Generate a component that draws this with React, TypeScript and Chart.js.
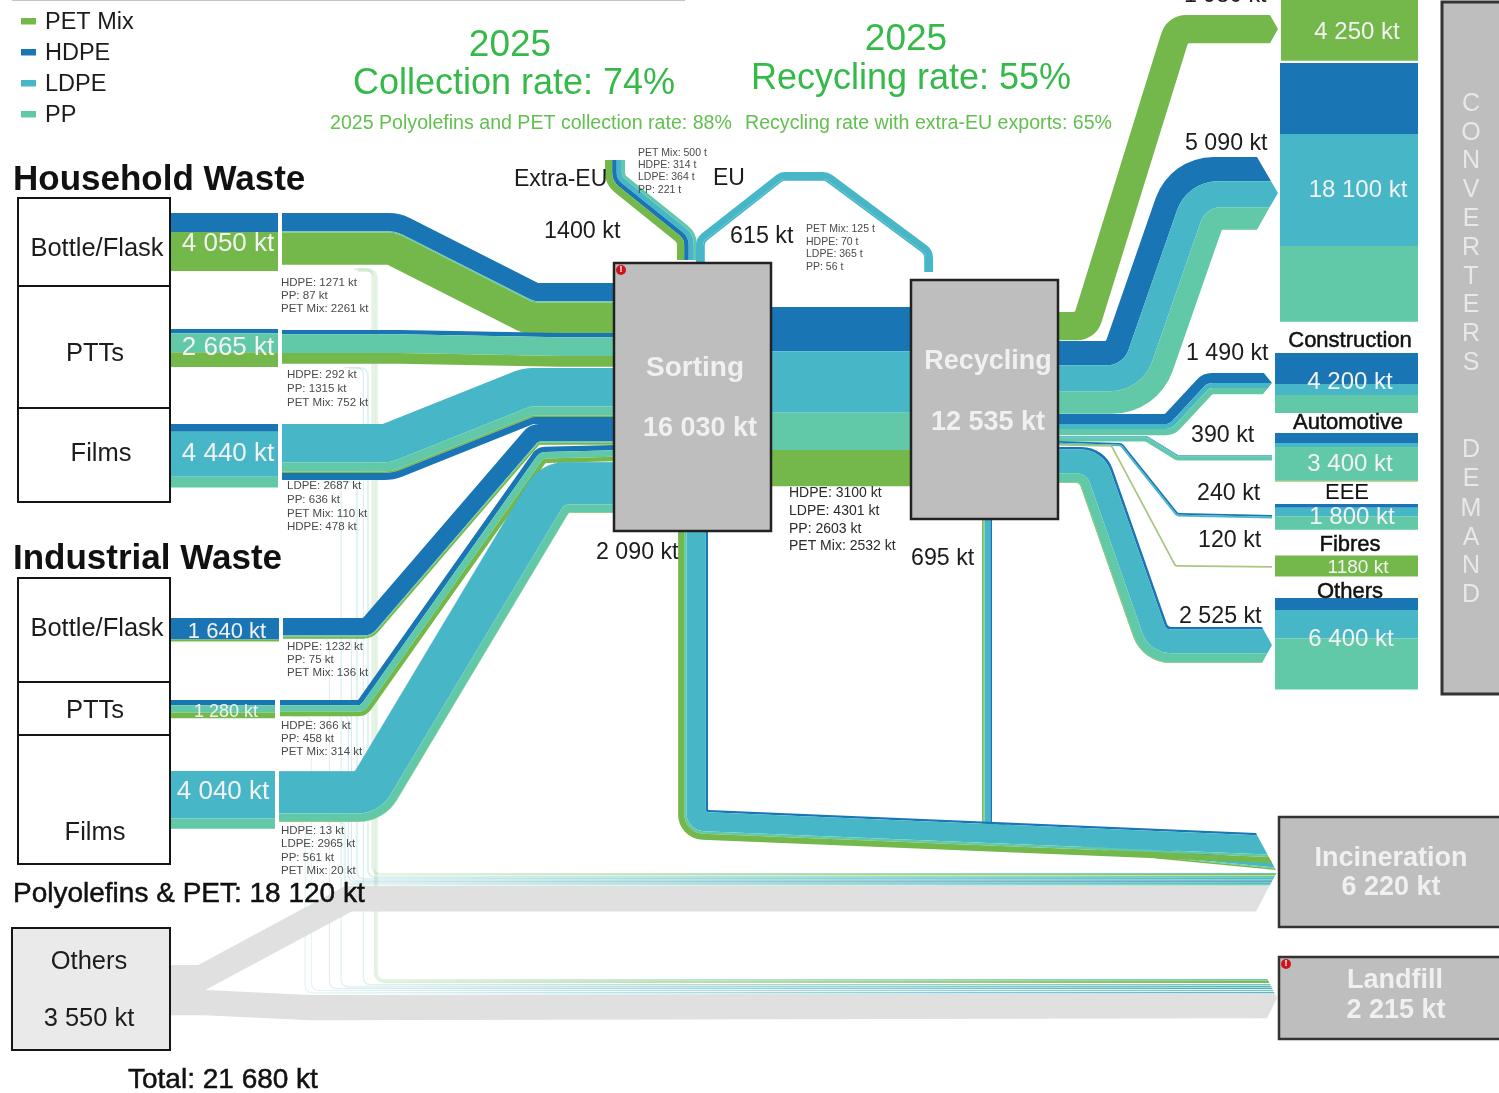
import React, { useEffect, useRef } from "react";
import { Chart, registerables } from "chart.js";

Chart.register(...registerables);

// ---------- colours ----------
const PET = "#74b74b", HDPE = "#1a75b5", LDPE = "#47b7c8", PP = "#62c9a8", OTH = "#e0e0e0";
const legendNames = ["PET Mix", "HDPE", "LDPE", "PP"];
const legendColors = [PET, HDPE, LDPE, PP];

// ---------- values (kt) ----------
const hhBottleBar = [1330, 2720];
const hhPttBar = [300, 1330, 1035];
const hhFilmsBar = [540, 3150, 750];
const iwBottleBar = [1500, 140];
const iwPttBar = [370, 500, 410];
const iwFilmsBar = [3320, 720];

const hhBottleFlow = [1271, 87, 2261];
const hhPttFlow = [292, 1315, 752];
const hhFilmsFlow = [2687, 636, 110, 478];
const iwBottleFlow = [1232, 75, 136];
const iwPttFlow = [366, 458, 314];
const iwFilmsFlow = [13, 2965, 561, 20];

const sortToRecycling = [3100, 4301, 2603, 2532];
const extraEu = [221, 364, 314, 500];
const eu = [490, 125];
const sortToIncin = [150, 1350, 170, 420];
const recToIncin = [120, 400, 70, 105];
const recToPet = [1980];
const recToPackaging = [1690, 1830, 1570];
const recToConstruction = [700, 350, 440];
const recToAutomotive = [40, 90, 260];
const recToEee = [120, 120];
const recToFibres = [120];
const recToOthers = [180, 1650, 650, 45];

const packagingPet = [4250];
const packaging = [4965, 7830, 5305];
const construction = [2170, 770, 1260];
const automotive = [700, 280, 2350, 70];
const eee = [260, 600, 940];
const fibres = [1180];
const othersDemand = [840, 2000, 3560];

const othersToIncin = [1790];
const othersToLandfill = [1760];

// residual thin flows: [from material a, material b]
const incResidual = [[70, 110], [80, 70], [110, 50], [60, 20], [60, 40], [130, 40]];
const incMaterials = [[PP, PET], [PP, LDPE], [LDPE, PP], [HDPE, PP], [HDPE, PP], [LDPE, PP]];
const lfResidual = [[100, 180], [30, 70], [80, 40], [60, 20], [40, 40], [80, 30]];
const lfMaterials = [[PP, PET], [HDPE, PP], [LDPE, PP], [HDPE, PP], [HDPE, PP], [LDPE, PP]];

// ---------- layout anchors (chart coordinates) ----------
const K = 0.0143;
const incX = [374, 369, 358, 352, 349, 346];
const incStart = [268, 367, 481, 636, 714, 820];
const incY = [873, 876, 878, 880.5, 881.5, 883];
const lfX = [378, 364, 342, 330, 312, 306];
const lfStart = [268, 367, 481, 638, 716, 821];
const lfY = [979, 984, 986, 988, 990, 992];
const incTip = { x0: 1256, len: 21, cy: 872, half: 39 };
const lfTip = { x0: 1267, len: 10, cy: 998, half: 20 };

type P = { x: number; y: number };
const ds: any[] = [];

function poly(points: P[], fill: string, radii?: number[], extra: any = {}) {
  ds.push({
    polygon: true, data: points, fillColor: fill, radii: radii || points.map(() => 0),
    showLine: false, pointRadius: 0, ...extra,
  });
}
function rect(x0: number, y0: number, x1: number, y1: number, fill: string, edge?: string, w = 0) {
  poly([{ x: x0, y: y0 }, { x: x1, y: y0 }, { x: x1, y: y1 }, { x: x0, y: y1 }], fill, undefined, { edgeColor: edge, edgeWidth: w });
}
function stack(x0: number, x1: number, y0: number, kts: number[], cols: string[], k = K) {
  let y = y0;
  kts.forEach((v, i) => { rect(x0, y, x1, y + v * k, cols[i]); y += v * k; });
}
function unit(a: P, b: P): P {
  const dx = b.x - a.x, dy = b.y - a.y, l = Math.hypot(dx, dy) || 1;
  return { x: dx / l, y: dy / l };
}
function offsetEdge(route: P[], d: number, W: number, rIn: number, f: number) {
  const pts: P[] = [], rad: number[] = [];
  const n = route.length;
  route.forEach((p, i) => {
    if (i === 0 || i === n - 1) {
      const u = i === 0 ? unit(route[0], route[1]) : unit(route[n - 2], route[n - 1]);
      if (Math.abs(u.x) >= Math.abs(u.y)) pts.push({ x: p.x, y: p.y + d * Math.sign(u.x) });
      else pts.push({ x: p.x - d * Math.sign(u.y), y: p.y });
      rad.push(0);
      return;
    }
    const a = unit(route[i - 1], p), b = unit(p, route[i + 1]);
    const na = { x: -a.y, y: a.x }, nb = { x: -b.y, y: b.x };
    const den = 1 + na.x * nb.x + na.y * nb.y;
    pts.push({ x: p.x + d * (na.x + nb.x) / den, y: p.y + d * (na.y + nb.y) / den });
    const cross = a.x * b.y - a.y * b.x;
    if (Math.abs(cross) < 0.03) rad.push(0);
    else rad.push(cross > 0 ? rIn + (W - d) * f : rIn + d * f);
  });
  return { pts, rad };
}
function ribbon(route: P[], kts: number[], cols: string[], o: any = {}) {
  const k = o.k ?? K, rIn = o.r ?? 2, f = o.f ?? 0.85;
  const W = kts.reduce((s, v) => s + v * k, 0);
  let d = 0;
  kts.forEach((v, i) => {
    const d1 = d + v * k;
    const top = offsetEdge(route, d, W, rIn, f);
    const bot = offsetEdge(route, d1, W, rIn, f);
    let pts = [...top.pts], rad = [...top.rad];
    if (o.tip) {
      const t = o.tip;
      const ex = (y: number) => t.x0 + t.len * Math.max(0, 1 - Math.abs(y - t.cy) / t.half);
      const a = pts[pts.length - 1], b = bot.pts[bot.pts.length - 1];
      pts[pts.length - 1] = { x: ex(a.y), y: a.y };
      if (a.y < t.cy && b.y > t.cy) { pts.push({ x: t.x0 + t.len, y: t.cy }); rad.push(0); }
      pts.push({ x: ex(b.y), y: b.y }); rad.push(0);
    } else {
      pts.push(bot.pts[bot.pts.length - 1]); rad.push(0);
    }
    for (let j = bot.pts.length - 2; j >= 0; j--) { pts.push(bot.pts[j]); rad.push(bot.rad[j]); }
    poly(pts, cols[i], rad, o.fade ? { fade: o.fade } : {});
    d = d1;
  });
}
const R = (...a: number[][]) => a.map(([x, y]) => ({ x, y }));

function build() {
  ds.length = 0;
  // faint residual flows
  const fade = [300, 1260, 0.12, 0.95];
  lfResidual.forEach((v, i) => ribbon(R([lfX[i] - 20, lfStart[i]], [lfX[i], lfStart[i]], [lfX[i], lfY[i]], [1267, lfY[i]]), v, lfMaterials[i], { tip: lfTip, fade, r: 6, f: 1 }));
  incResidual.forEach((v, i) => ribbon(R([incX[i] - 20, incStart[i]], [incX[i], incStart[i]], [incX[i], incY[i]], [1256, incY[i]]), v, incMaterials[i], { tip: incTip, fade, r: 6, f: 1 }));
  // others
  ribbon(R([171, 965], [198, 965], [345, 886], [1256, 886]), othersToIncin, [OTH], { tip: incTip, r: 1, f: 0.2 });
  ribbon(R([171, 990], [205, 990], [311, 995], [1267, 993]), othersToLandfill, [OTH], { tip: lfTip, r: 0, f: 0 });
  // source bars
  stack(171, 278, 213, hhBottleBar, [HDPE, PET]);
  stack(171, 278, 329, hhPttBar, [HDPE, PP, PET]);
  stack(171, 278, 424, hhFilmsBar, [HDPE, LDPE, PP]);
  stack(171, 279, 618, iwBottleBar, [HDPE, PET]);
  stack(171, 275, 700, iwPttBar, [HDPE, PP, PET]);
  stack(171, 275, 771, iwFilmsBar, [LDPE, PP]);
  // flows into sorting
  ribbon(R([282, 213], [400, 213], [538, 283], [614, 283]), hhBottleFlow, [HDPE, PP, PET]);
  ribbon(R([282, 330], [400, 330], [560, 333], [614, 333]), hhPttFlow, [HDPE, PP, PET]);
  ribbon(R([282, 424], [383, 424], [523, 368], [614, 368]), hhFilmsFlow, [LDPE, PP, PET, HDPE]);
  ribbon(R([283, 618], [363, 618], [530, 424], [614, 424]), iwBottleFlow, [HDPE, PP, PET]);
  ribbon(R([280, 700], [358, 700], [537, 447], [614, 445]), iwPttFlow, [HDPE, PP, PET]);
  ribbon(R([279, 771], [355, 771], [540, 462], [614, 462]), iwFilmsFlow, [HDPE, LDPE, PP, PET]);
  // exports
  ribbon(R([625, 160], [625, 175], [697, 233], [697, 260]), extraEu, [PP, LDPE, HDPE, PET], { r: 5, f: 1 });
  ribbon(R([696, 262], [696, 238], [780, 172], [828, 172], [933, 250], [933, 272]), eu, [LDPE, LDPE], { r: 7, f: 1 });
  // sorting -> recycling
  ribbon(R([771, 307], [911, 307]), sortToRecycling, [HDPE, LDPE, PP, PET]);
  // to incineration
  ribbon(R([992, 519], [992, 822], [1160, 849], [1256, 860]), recToIncin, [HDPE, LDPE, PP, PET], { tip: incTip, r: 0, f: 0 });
  ribbon(R([708, 531], [708, 810], [1256, 833]), sortToIncin, [HDPE, LDPE, PP, PET], { tip: incTip, r: 1, f: 0.8 });
  // recycling -> demand
  ribbon(R([1058, 312], [1075, 312], [1167, 15], [1271, 15]), recToPet, [PET], { tip: { x0: 1270, len: 8, cy: 29, half: 14 } });
  ribbon(R([1058, 341], [1106, 341], [1170, 157], [1257, 157]), recToPackaging, [HDPE, LDPE, PP], { tip: { x0: 1257, len: 21, cy: 193, half: 36 } });
  ribbon(R([1058, 414], [1165, 414], [1203, 373], [1263, 373]), recToConstruction, [HDPE, LDPE, PP], { tip: { x0: 1263, len: 9, cy: 383, half: 11 } });
  ribbon(R([1058, 436], [1147, 436], [1178, 455], [1272, 455]), recToAutomotive, [HDPE, LDPE, PP]);
  ribbon(R([1058, 441], [1122, 443], [1178, 513], [1272, 515]), recToEee, [HDPE, LDPE]);
  ribbon(R([1058, 444], [1112, 445], [1176, 565], [1272, 566]), recToFibres, ["#a9c77f"]);
  ribbon(R([1058, 447], [1105, 447], [1168, 627], [1262, 627]), recToOthers, [HDPE, LDPE, PP, PET], { r: 4, f: 1, tip: { x0: 1262, len: 10, cy: 645, half: 18 } });
  // demand stacks
  stack(1281, 1418, 0, packagingPet, [PET]);
  stack(1280, 1418, 63, packaging, [HDPE, LDPE, PP]);
  stack(1275, 1418, 353, construction, [HDPE, LDPE, PP]);
  stack(1275, 1418, 433, automotive, [HDPE, LDPE, PP, PET]);
  stack(1275, 1418, 504, eee, [HDPE, LDPE, PP]);
  stack(1275, 1418, 555.5, fibres, [PET], 21 / 1180);
  stack(1275, 1418, 598, othersDemand, [HDPE, LDPE, PP]);
  // boxes
  const black = "#151515", grey = "#bebebe";
  rect(18, 198, 170, 286, "#ffffff", black, 2);
  rect(18, 286, 170, 408, "#ffffff", black, 2);
  rect(18, 408, 170, 502, "#ffffff", black, 2);
  rect(18, 578, 170, 682, "#ffffff", black, 2);
  rect(18, 682, 170, 735, "#ffffff", black, 2);
  rect(18, 735, 170, 864, "#ffffff", black, 2);
  rect(12, 928, 170, 1050, "#eaeaea", black, 2);
  rect(614, 263, 771, 531, grey, "#222222", 2.5);
  rect(911, 280, 1058, 519, grey, "#222222", 2.5);
  rect(1442, 2, 1510, 694, grey, "#333333", 3);
  rect(1279, 817, 1510, 927, grey, "#333333", 2.5);
  rect(1279, 957, 1510, 1039, grey, "#333333", 2.5);
  rect(12, -2, 685, 1, "#c4c4c4");
  // legend swatches
  legendColors.forEach((c, i) => rect(21, 18 + i * 31, 36, 24.5 + i * 31, c));
  // warning marks
  ds.push({ data: R([621, 270], [1286, 964]), showLine: false, pointRadius: 5, pointBackgroundColor: "#d0121b", pointBorderWidth: 0 });
}

const F = "'Liberation Sans', Arial, sans-serif";
const INK = "#1c1c1c", SMALL = "#4a4a4a", W = "#f2f2f2", G1 = "#35ba4a", G2 = "#62c04f", WB = "#f0f0f0";
// text, x, y, size, colour, align, bold, semibold
const labels: any[] = [
  ...legendNames.map((t, i) => [t, 45, 21 + i * 31, 23.5, INK, "left", false]),
  ["2025", 510, 43, 37, G1, "center"], ["Collection rate: 74%", 514, 82, 36, G1, "center"],
  ["2025", 906, 37, 37, G1, "center"], ["Recycling rate: 55%", 911, 77, 36, G1, "center"],
  ["2025 Polyolefins and PET collection rate: 88%", 330, 122, 19.6, G2, "left"],
  ["Recycling rate with extra-EU exports: 65%", 745, 122, 19.6, G2, "left"],
  ["Household Waste", 13, 178, 35, "#111", "left", true], ["Industrial Waste", 13, 557, 35, "#111", "left", true],
  ["Bottle/Flask", 97, 247, 25.5, INK, "center"], ["PTTs", 95, 352, 25.5, INK, "center"], ["Films", 101, 452, 25.5, INK, "center"],
  ["Bottle/Flask", 97, 627, 25.5, INK, "center"], ["PTTs", 95, 709, 25.5, INK, "center"], ["Films", 95, 831, 25.5, INK, "center"],
  ["4 050 kt", 228, 242, 26, W, "center"], ["2 665 kt", 228, 346, 26, W, "center"], ["4 440 kt", 228, 452, 26, W, "center"],
  ["1 640 kt", 227, 630, 22, W, "center"], ["1 280 kt", 226, 711, 18, W, "center"], ["4 040 kt", 223, 790, 26, W, "center"],
  ["HDPE: 1271 kt", 281, 282, 11.5, SMALL], ["PP: 87 kt", 281, 295, 11.5, SMALL], ["PET Mix: 2261 kt", 281, 308, 11.5, SMALL],
  ["HDPE: 292 kt", 287, 374, 11.5, SMALL], ["PP: 1315 kt", 287, 388, 11.5, SMALL], ["PET Mix: 752 kt", 287, 402, 11.5, SMALL],
  ["LDPE: 2687 kt", 287, 485, 11.5, SMALL], ["PP: 636 kt", 287, 499, 11.5, SMALL], ["PET Mix: 110 kt", 287, 513, 11.5, SMALL], ["HDPE: 478 kt", 287, 526, 11.5, SMALL],
  ["HDPE: 1232 kt", 287, 646, 11.5, SMALL], ["PP: 75 kt", 287, 659, 11.5, SMALL], ["PET Mix: 136 kt", 287, 672, 11.5, SMALL],
  ["HDPE: 366 kt", 281, 725, 11.5, SMALL], ["PP: 458 kt", 281, 738, 11.5, SMALL], ["PET Mix: 314 kt", 281, 751, 11.5, SMALL],
  ["HDPE: 13 kt", 281, 830, 11.5, SMALL], ["LDPE: 2965 kt", 281, 843, 11.5, SMALL], ["PP: 561 kt", 281, 857, 11.5, SMALL], ["PET Mix: 20 kt", 281, 870, 11.5, SMALL],
  ["Extra-EU", 514, 178, 23, INK], ["EU", 713, 177, 23, INK], ["1400 kt", 544, 230, 23.3, INK], ["615 kt", 730, 235, 23.3, INK],
  ["PET Mix: 500 t", 638, 152, 10.5, SMALL], ["HDPE: 314 t", 638, 164, 10.5, SMALL], ["LDPE: 364 t", 638, 176, 10.5, SMALL], ["PP: 221 t", 638, 189, 10.5, SMALL],
  ["PET Mix: 125 t", 806, 228, 10.5, SMALL], ["HDPE: 70 t", 806, 241, 10.5, SMALL], ["LDPE: 365 t", 806, 253, 10.5, SMALL], ["PP: 56 t", 806, 266, 10.5, SMALL],
  ["Sorting", 695, 366, 28, WB, "center", true], ["16 030 kt", 700, 427, 27, WB, "center", true],
  ["Recycling", 988, 360, 27, WB, "center", true], ["12 535 kt", 988, 421, 27, WB, "center", true],
  ["HDPE: 3100 kt", 789, 492, 14, "#2a2a2a"], ["LDPE: 4301 kt", 789, 510, 14, "#2a2a2a"], ["PP: 2603 kt", 789, 528, 14, "#2a2a2a"], ["PET Mix: 2532 kt", 789, 545, 14, "#2a2a2a"],
  ["2 090 kt", 596, 551, 23.2, INK], ["695 kt", 911, 557, 23.2, INK],
  ["1 980 kt", 1184, -6, 23.2, INK], ["5 090 kt", 1185, 142, 23.2, INK], ["1 490 kt", 1186, 352, 23.2, INK], ["390 kt", 1191, 434, 23.2, INK], ["240 kt", 1197, 492, 23.2, INK], ["120 kt", 1198, 539, 23.2, INK], ["2 525 kt", 1179, 615, 23.2, INK],
  ["4 250 kt", 1357, 31, 24, W, "center"], ["18 100 kt", 1358, 189, 24, W, "center"], ["4 200 kt", 1350, 381, 24, W, "center"], ["3 400 kt", 1350, 463, 24, W, "center"], ["1 800 kt", 1352, 516, 24, W, "center"], ["1180 kt", 1358, 566, 19, W, "center"], ["6 400 kt", 1351, 638, 24, W, "center"],
  ["Construction", 1350, 339, 22, "#111", "center", false, true], ["Automotive", 1348, 421, 22, "#111", "center", false, true], ["EEE", 1347, 491, 22, "#111", "center"], ["Fibres", 1350, 543, 22, "#111", "center", false, true], ["Others", 1350, 590, 22, "#111", "center", false, true],
  ["Incineration", 1391, 857, 27, WB, "center", true], ["6 220 kt", 1391, 886, 27, WB, "center", true],
  ["Landfill", 1395, 979, 27, WB, "center", true], ["2 215 kt", 1396, 1009, 27, WB, "center", true],
  ["Polyolefins & PET: 18 120 kt", 13, 892, 28, "#111", "left", false, true], ["Total: 21 680 kt", 128, 1078, 28, "#111", "left", false, true],
  ["Others", 89, 960, 25.5, INK, "center"], ["3 550 kt", 89, 1017, 25.5, INK, "center"],
  ["!", 621, 269, 9, "#fff", "center", true], ["!", 1286, 963, 9, "#fff", "center", true],
];
const letters = "CONVERTERS";
const lettersY = [102, 131, 159, 188, 217, 246, 275, 303, 332, 361];
const letters2 = "DEMAND";
const letters2Y = [448, 477, 507, 536, 564, 593];
letters.split("").forEach((c, i) => labels.push([c, 1471, lettersY[i], 25, "#e8e8e8", "center"]));
letters2.split("").forEach((c, i) => labels.push([c, 1471, letters2Y[i], 25, "#e8e8e8", "center"]));

function rgba(hex: string, a: number) {
  const n = parseInt(hex.slice(1), 16);
  return `rgba(${(n >> 16) & 255},${(n >> 8) & 255},${n & 255},${a})`;
}

const polygonPlugin = {
  id: "polygonPlugin",
  beforeDatasetDraw(chart: any, args: any) {
    const d = chart.data.datasets[args.index];
    if (!d.polygon) return;
    const pts = chart.getDatasetMeta(args.index).data;
    const ctx = chart.ctx, n = pts.length;
    ctx.save();
    ctx.beginPath();
    ctx.moveTo(pts[0].x, pts[0].y);
    for (let i = 1; i <= n; i++) {
      const c = pts[i % n], p = pts[i - 1], q = pts[(i + 1) % n], r0 = d.radii[i % n];
      if (!r0) { ctx.lineTo(c.x, c.y); continue; }
      const l1 = Math.hypot(c.x - p.x, c.y - p.y), l2 = Math.hypot(q.x - c.x, q.y - c.y);
      const dot = ((c.x - p.x) * (q.x - c.x) + (c.y - p.y) * (q.y - c.y)) / (l1 * l2 || 1);
      const phi = Math.acos(Math.max(-1, Math.min(1, dot)));
      const tan = Math.tan(phi / 2) || 1e-6;
      const r = Math.min(r0, (Math.min(l1, l2) * 0.5) / tan);
      ctx.arcTo(c.x, c.y, q.x, q.y, r);
    }
    ctx.closePath();
    if (d.fade) {
      const sx = chart.scales.x;
      const g = ctx.createLinearGradient(sx.getPixelForValue(d.fade[0]), 0, sx.getPixelForValue(d.fade[1]), 0);
      g.addColorStop(0, rgba(d.fillColor, d.fade[2]));
      g.addColorStop(1, rgba(d.fillColor, d.fade[3]));
      ctx.fillStyle = g;
    } else ctx.fillStyle = d.fillColor;
    ctx.fill();
    if (d.edgeColor && d.edgeWidth) {
      ctx.strokeStyle = d.edgeColor;
      ctx.lineWidth = d.edgeWidth;
      ctx.stroke();
    }
    ctx.restore();
  },
  afterDatasetsDraw(chart: any) {
    const ctx = chart.ctx, sx = chart.scales.x, sy = chart.scales.y;
    ctx.save();
    ctx.textBaseline = "middle";
    labels.forEach(([t, x, y, size, color, align, bold, semi]) => {
      ctx.font = `${bold ? "bold " : ""}${size}px ${F}`;
      ctx.fillStyle = color;
      ctx.textAlign = align || "left";
      const px = sx.getPixelForValue(x), py = sy.getPixelForValue(y) + size * 0.07;
      ctx.fillText(t, px, py);
      if (semi) {
        ctx.strokeStyle = color;
        ctx.lineWidth = 0.5;
        ctx.strokeText(t, px, py);
      }
    });
    ctx.restore();
  },
};

export default function App() {
  const ref = useRef<HTMLCanvasElement>(null);
  useEffect(() => {
    build();
    const total = ds.length;
    const datasets = ds.map((d, i) => ({ ...d, order: total - i }));
    const chart = new Chart(ref.current as any, {
      type: "scatter",
      data: { datasets },
      options: {
        animation: false,
        responsive: false,
        events: [],
        layout: { padding: 0, autoPadding: false },
        plugins: { legend: { display: false }, tooltip: { enabled: false } },
        scales: {
          x: { type: "linear", display: false, min: 0, max: 1499 },
          y: { type: "linear", display: false, min: 0, max: 1093, reverse: true },
        },
      } as any,
      plugins: [polygonPlugin as any],
    });
    return () => chart.destroy();
  }, []);
  return (
    <canvas
      ref={ref}
      width={1499}
      height={1093}
      style={{ position: "absolute", left: 0, top: 0, display: "block", width: 1499, height: 1093, background: "#fff", filter: "blur(0.5px)" }}
    />
  );
}
